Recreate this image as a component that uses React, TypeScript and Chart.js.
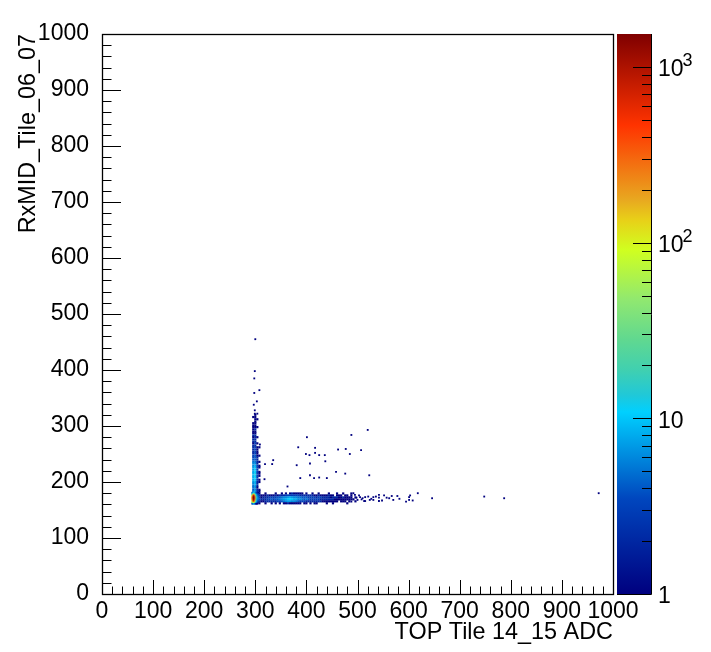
import React, { useEffect, useRef } from "react";
import { Chart, registerables } from "chart.js";

Chart.register(...registerables);

const FONT = "'Liberation Sans', Arial, sans-serif";
const X_TITLE = "TOP Tile 14_15 ADC";
const Y_TITLE = "RxMID_Tile_06_07";
const Z_MIN = 1;
const Z_MAX = 1540;
const Z_LABELS: [number, string, string][] = [
  [1, "1", ""],
  [10, "10", ""],
  [100, "10", "2"],
  [1000, "10", "3"],
];
const Z_TICKS = [1, 2, 3, 4, 5, 6, 7, 8, 9, 10, 20, 30, 40, 50, 60, 70, 80, 90, 100, 200, 300, 400, 500, 600, 700, 800, 900, 1000];

const PALETTE: [number, number[]][] = [
  [0, [0, 0, 127]],
  [0.17, [0, 70, 190]],
  [0.325, [0, 208, 255]],
  [0.355, [32, 200, 216]],
  [0.4, [64, 208, 176]],
  [0.454, [96, 216, 144]],
  [0.525, [144, 232, 112]],
  [0.614, [208, 255, 32]],
  [0.668, [232, 208, 24]],
  [0.704, [232, 168, 32]],
  [0.837, [255, 51, 0]],
  [1, [127, 0, 0]],
];

// Horizontal band: cells every 4 units in x from 308
const bandColumns = [308, 312, 316, 320, 324, 328, 332, 336, 340, 344, 348, 352, 356, 360, 364, 368, 372, 376, 380, 384, 388, 392, 396, 400, 404, 408, 412, 416, 420, 424, 428, 432, 436, 440, 444, 448, 452, 456, 460, 464, 468, 472, 476, 480, 484, 488, 492, 496];
const bandRowY = [179.5, 176, 172.5, 169, 165.5, 162];
const bandRow1 = [1, 0, 0, 1, 0, 0, 0, 0, 1, 0, 0, 1, 0, 1, 0, 1, 2, 1, 1, 1, 1, 1, 0, 1, 0, 0, 1, 0, 0, 1, 0, 0, 0, 0, 1, 0, 0, 0, 1, 0, 0, 1, 0, 0, 0, 1, 0, 0];
const bandRow2 = [2, 1, 1, 1, 2, 1, 1, 1, 2, 1, 2, 2, 2, 3, 3, 3, 3, 3, 3, 3, 2, 2, 2, 2, 2, 2, 2, 1, 1, 2, 1, 1, 1, 1, 2, 1, 1, 0, 1, 1, 1, 0, 1, 1, 0, 1, 0, 0];
const bandRow3 = [3, 1, 2, 2, 2, 3, 3, 3, 3, 4, 4, 5, 6, 6, 7, 8, 7, 6, 6, 5, 5, 4, 4, 4, 3, 3, 3, 3, 2, 3, 3, 2, 2, 2, 2, 1, 2, 2, 2, 1, 1, 2, 1, 1, 1, 1, 0, 1];
const bandRow4 = [3, 2, 2, 2, 3, 3, 4, 3, 4, 4, 5, 6, 7, 8, 10, 11, 10, 8, 8, 6, 6, 5, 4, 5, 4, 3, 3, 3, 3, 3, 2, 2, 2, 2, 2, 2, 2, 1, 1, 1, 1, 1, 1, 1, 1, 1, 1, 0];
const bandRow5 = [2, 1, 1, 2, 2, 2, 2, 2, 2, 3, 3, 4, 5, 6, 7, 7, 6, 6, 5, 4, 3, 3, 3, 2, 2, 2, 2, 2, 2, 2, 2, 1, 1, 1, 1, 1, 1, 1, 1, 0, 1, 1, 1, 0, 1, 0, 0, 1];
const bandRow6 = [1, 0, 0, 1, 0, 0, 1, 0, 1, 0, 1, 0, 1, 1, 2, 1, 1, 1, 1, 1, 1, 0, 1, 1, 0, 1, 0, 1, 1, 0, 0, 0, 0, 1, 0, 0, 1, 0, 0, 0, 0, 0, 0, 1, 0, 0, 0, 0];
const bandRows = [bandRow1, bandRow2, bandRow3, bandRow4, bandRow5, bandRow6];

// Vertical band: cells every 4 units in x
const stemColumns = [296, 300, 304, 308];
const stemRowY = [320, 316, 312, 308, 305, 301, 298, 294, 290, 287, 283, 280, 276, 272, 269, 265, 262, 258, 254, 251, 247, 244, 240, 236, 233, 229, 226, 222, 218, 215, 211, 208, 204, 200, 197, 193, 190, 186, 183];
const stemCol1 = [0, 1, 0, 0, 1, 1, 1, 1, 1, 1, 2, 1, 2, 2, 1, 2, 2, 2, 2, 2, 3, 3, 4, 5, 6, 6, 7, 7, 8, 8, 9, 8, 8, 7, 6, 5, 5, 4, 6];
const stemCol2 = [1, 1, 1, 1, 1, 1, 1, 2, 1, 1, 2, 2, 2, 2, 3, 2, 3, 3, 3, 3, 4, 4, 4, 5, 6, 8, 9, 10, 11, 12, 12, 11, 10, 8, 8, 7, 6, 6, 7];
const stemCol3 = [0, 0, 1, 0, 0, 0, 1, 0, 0, 0, 0, 1, 0, 0, 1, 0, 1, 1, 1, 1, 1, 2, 2, 2, 2, 3, 3, 3, 3, 3, 3, 3, 3, 2, 2, 2, 1, 2, 2];
const stemCol4 = [0, 0, 0, 0, 0, 0, 0, 0, 0, 0, 0, 0, 0, 0, 0, 0, 1, 0, 0, 0, 1, 0, 0, 1, 0, 1, 1, 0, 1, 1, 1, 0, 1, 1, 0, 0, 0, 1, 1];
const stemCols = [stemCol1, stemCol2, stemCol3, stemCol4];

// Dense corner: cells every 2 units
const coreColumns = [294, 296, 298, 300, 302, 304, 306];
const coreRowY = [181, 179, 177, 175, 173, 171, 169, 167, 165, 163, 161];
const coreRow1 = [3, 8, 9, 6, 3, 2, 1];
const coreRow2 = [8, 30, 40, 15, 5, 3, 2];
const coreRow3 = [30, 200, 300, 50, 10, 5, 3];
const coreRow4 = [100, 700, 1000, 150, 15, 6, 4];
const coreRow5 = [200, 1200, 1500, 250, 20, 8, 4];
const coreRow6 = [250, 1400, 1500, 300, 25, 8, 5];
const coreRow7 = [200, 1200, 1400, 250, 20, 7, 5];
const coreRow8 = [150, 900, 1100, 180, 15, 6, 4];
const coreRow9 = [80, 400, 600, 100, 12, 5, 3];
const coreRow10 = [20, 80, 120, 25, 6, 3, 2];
const coreRow11 = [3, 6, 8, 3, 1, 1, 0];
const coreRows = [coreRow1, coreRow2, coreRow3, coreRow4, coreRow5, coreRow6, coreRow7, coreRow8, coreRow9, coreRow10, coreRow11];

// Isolated single-count cells
const strayX = [401, 488, 520, 384, 417, 462, 477, 507, 399, 417, 425, 436, 485, 406, 437, 407, 381, 335, 333, 319, 458, 476, 523, 407, 415, 425, 440, 388, 318, 363, 309, 300, 299, 298, 308, 298, 303, 297, 299, 304, 299, 618, 603, 601, 601, 608, 595, 646, 748, 787, 972, 582, 578, 570, 567, 557, 552, 542, 542, 542, 531, 531, 521, 524, 515, 515, 508, 505, 498, 495, 492, 488, 500, 503, 510, 513, 527, 536, 548, 562];
const strayY = [280, 284, 293, 262, 261, 258, 259, 257, 250, 252, 248, 248, 250, 248, 237, 233, 230, 239, 232, 232, 218, 215, 212, 212, 207, 208, 207, 207, 205, 192, 267, 455, 398, 385, 364, 359, 344, 338, 328, 322, 322, 180, 176, 173, 168, 167, 165, 171, 174, 171, 180, 170, 175, 168, 175, 172, 176, 177, 172, 166, 173, 168, 174, 168, 173, 166, 169, 173, 172, 177, 180, 165, 168, 176, 171, 166, 170, 174, 167, 171];

function colorFor(count: number): string {
  const f = Math.log10(Math.max(count, Z_MIN)) / Math.log10(Z_MAX);
  return paletteAt(Math.min(f, 1));
}

function paletteAt(f: number): string {
  for (let i = 1; i < PALETTE.length; i++) {
    const [f1, c1] = PALETTE[i];
    if (f <= f1) {
      const [f0, c0] = PALETTE[i - 1];
      const t = (f - f0) / (f1 - f0);
      const c = c0.map((v, k) => Math.round(v + (c1[k] - v) * t));
      return `rgb(${c[0]},${c[1]},${c[2]})`;
    }
  }
  return "rgb(127,0,0)";
}

type Cell = { x: number; y: number; c: number };

function gridCells(cols: number[], rowY: number[], rows: number[][]): Cell[] {
  const out: Cell[] = [];
  rowY.forEach((y, r) => cols.forEach((x, k) => {
    if (rows[r][k] > 0) out.push({ x, y, c: rows[r][k] });
  }));
  return out;
}

function stemCells(): Cell[] {
  const out: Cell[] = [];
  stemRowY.forEach((y, r) => stemColumns.forEach((x, k) => {
    if (stemCols[k][r] > 0) out.push({ x, y, c: stemCols[k][r] });
  }));
  return out;
}

const histFrame = {
  id: "histFrame",
  afterDraw(chart: any) {
    const { ctx, chartArea: a, scales } = chart;
    const z = scales.z;
    const barL = 617;
    const barR = 651;
    const top = a.top;
    const bottom = a.bottom;
    ctx.save();
    // colour bar
    const grad = ctx.createLinearGradient(0, bottom, 0, top);
    PALETTE.forEach(([f]) => grad.addColorStop(f, paletteAt(f === 0 ? 0.0001 : f)));
    ctx.fillStyle = grad;
    ctx.fillRect(barL, top, barR - barL, bottom - top);
    ctx.strokeStyle = "#000";
    ctx.lineWidth = 1;
    ctx.beginPath();
    ctx.moveTo(barL, bottom + 0.5);
    ctx.lineTo(barR + 0.5, bottom + 0.5);
    ctx.lineTo(barR + 0.5, top);
    ctx.stroke();
    Z_TICKS.forEach((v) => {
      const major = v === 1 || v === 10 || v === 100 || v === 1000;
      if (v === 1) return;
      const y = Math.round(z.getPixelForValue(v)) + 0.5;
      ctx.beginPath();
      ctx.moveTo(barR, y);
      ctx.lineTo(barR - (major ? 18 : 9), y);
      ctx.stroke();
    });
    // frame
    ctx.lineWidth = 1.3;
    ctx.strokeRect(a.left + 0.5, a.top + 0.5, a.right - a.left, a.bottom - a.top);
    ctx.lineWidth = 1;
    const xs = scales.x;
    const ys = scales.y;
    for (let v = 20; v <= 1000; v += 20) {
      const major = v % 100 === 0;
      const px = Math.round(xs.getPixelForValue(v)) + 0.5;
      ctx.beginPath();
      ctx.moveTo(px, a.bottom);
      ctx.lineTo(px, a.bottom - (major ? 14 : 7.5));
      ctx.stroke();
      const py = Math.round(ys.getPixelForValue(v)) + 0.5;
      ctx.beginPath();
      ctx.moveTo(a.left, py);
      ctx.lineTo(a.left + (major ? 19 : 9.5), py);
      ctx.stroke();
    }
    // colour bar labels
    ctx.fillStyle = "#000";
    ctx.textBaseline = "middle";
    ctx.textAlign = "left";
    Z_LABELS.forEach(([v, base, exp]) => {
      const y = z.getPixelForValue(v);
      ctx.font = `23px ${FONT}`;
      ctx.fillText(base, 658, y + 3);
      if (exp) {
        const w = ctx.measureText(base).width;
        ctx.font = `18px ${FONT}`;
        ctx.fillText(exp, 658 + w - 1, y - 6);
      }
    });
    ctx.restore();
  },
};

export default function App() {
  const ref = useRef<HTMLCanvasElement | null>(null);
  useEffect(() => {
    if (!ref.current) return;
    const mk = (cells: Cell[], r: number) => ({
      type: "scatter" as const,
      data: cells.map((p) => ({ x: p.x, y: p.y })),
      pointStyle: "rect",
      pointRadius: r,
      pointHoverRadius: r,
      pointBorderWidth: 0,
      pointBackgroundColor: cells.map((p) => colorFor(p.c)),
      showLine: false,
    });
    const strays: Cell[] = strayX.map((x, i) => ({ x, y: strayY[i], c: 1 }));
    const font = { family: FONT, size: 23 };
    const titleFont = { family: FONT, size: 23.4 };
    const plain = (v: any) => String(v);
    const chart = new Chart(ref.current, {
      type: "scatter",
      data: {
        datasets: [
          mk(gridCells(coreColumns, coreRowY, coreRows), 1.2),
          mk(strays, 1.3),
          mk(gridCells(bandColumns, bandRowY, bandRows), 1.55),
          mk(stemCells(), 1.55),
        ],
      },
      options: {
        responsive: false,
        animation: false,
        devicePixelRatio: 1,
        layout: { padding: { top: 34, left: 0, right: 0, bottom: 0 } },
        plugins: { legend: { display: false }, tooltip: { enabled: false } },
        scales: {
          x: {
            type: "linear", min: 0, max: 1000,
            grid: { display: false }, border: { display: false },
            ticks: { stepSize: 100, autoSkip: false, maxRotation: 0, color: "#000", font, padding: -4, callback: plain },
            title: { display: true, text: X_TITLE, align: "end", color: "#000", font: titleFont, padding: { top: 0, bottom: 5 } },
            afterFit: (s: any) => { s.height = 58; },
          },
          y: {
            type: "linear", min: 0, max: 1000,
            grid: { display: false }, border: { display: false },
            ticks: { stepSize: 100, autoSkip: false, color: "#000", font, padding: 5, callback: plain },
            title: { display: true, text: Y_TITLE, align: "end", color: "#000", font: titleFont, padding: { top: 15, bottom: 0 } },
            afterFit: (s: any) => { s.width = 102; },
          },
          z: {
            type: "logarithmic", axis: "y", position: "right", min: Z_MIN, max: Z_MAX,
            grid: { display: false }, border: { display: false },
            ticks: { display: false },
            afterFit: (s: any) => { s.width = 98; },
          },
        },
      } as any,
      plugins: [histFrame],
    } as any);
    return () => chart.destroy();
  }, []);
  return (
    <div style={{ position: "absolute", left: 0, top: 0, width: 711, height: 652, background: "#fff" }}>
      <canvas ref={ref} width={711} height={652} style={{ display: "block" }} />
    </div>
  );
}
